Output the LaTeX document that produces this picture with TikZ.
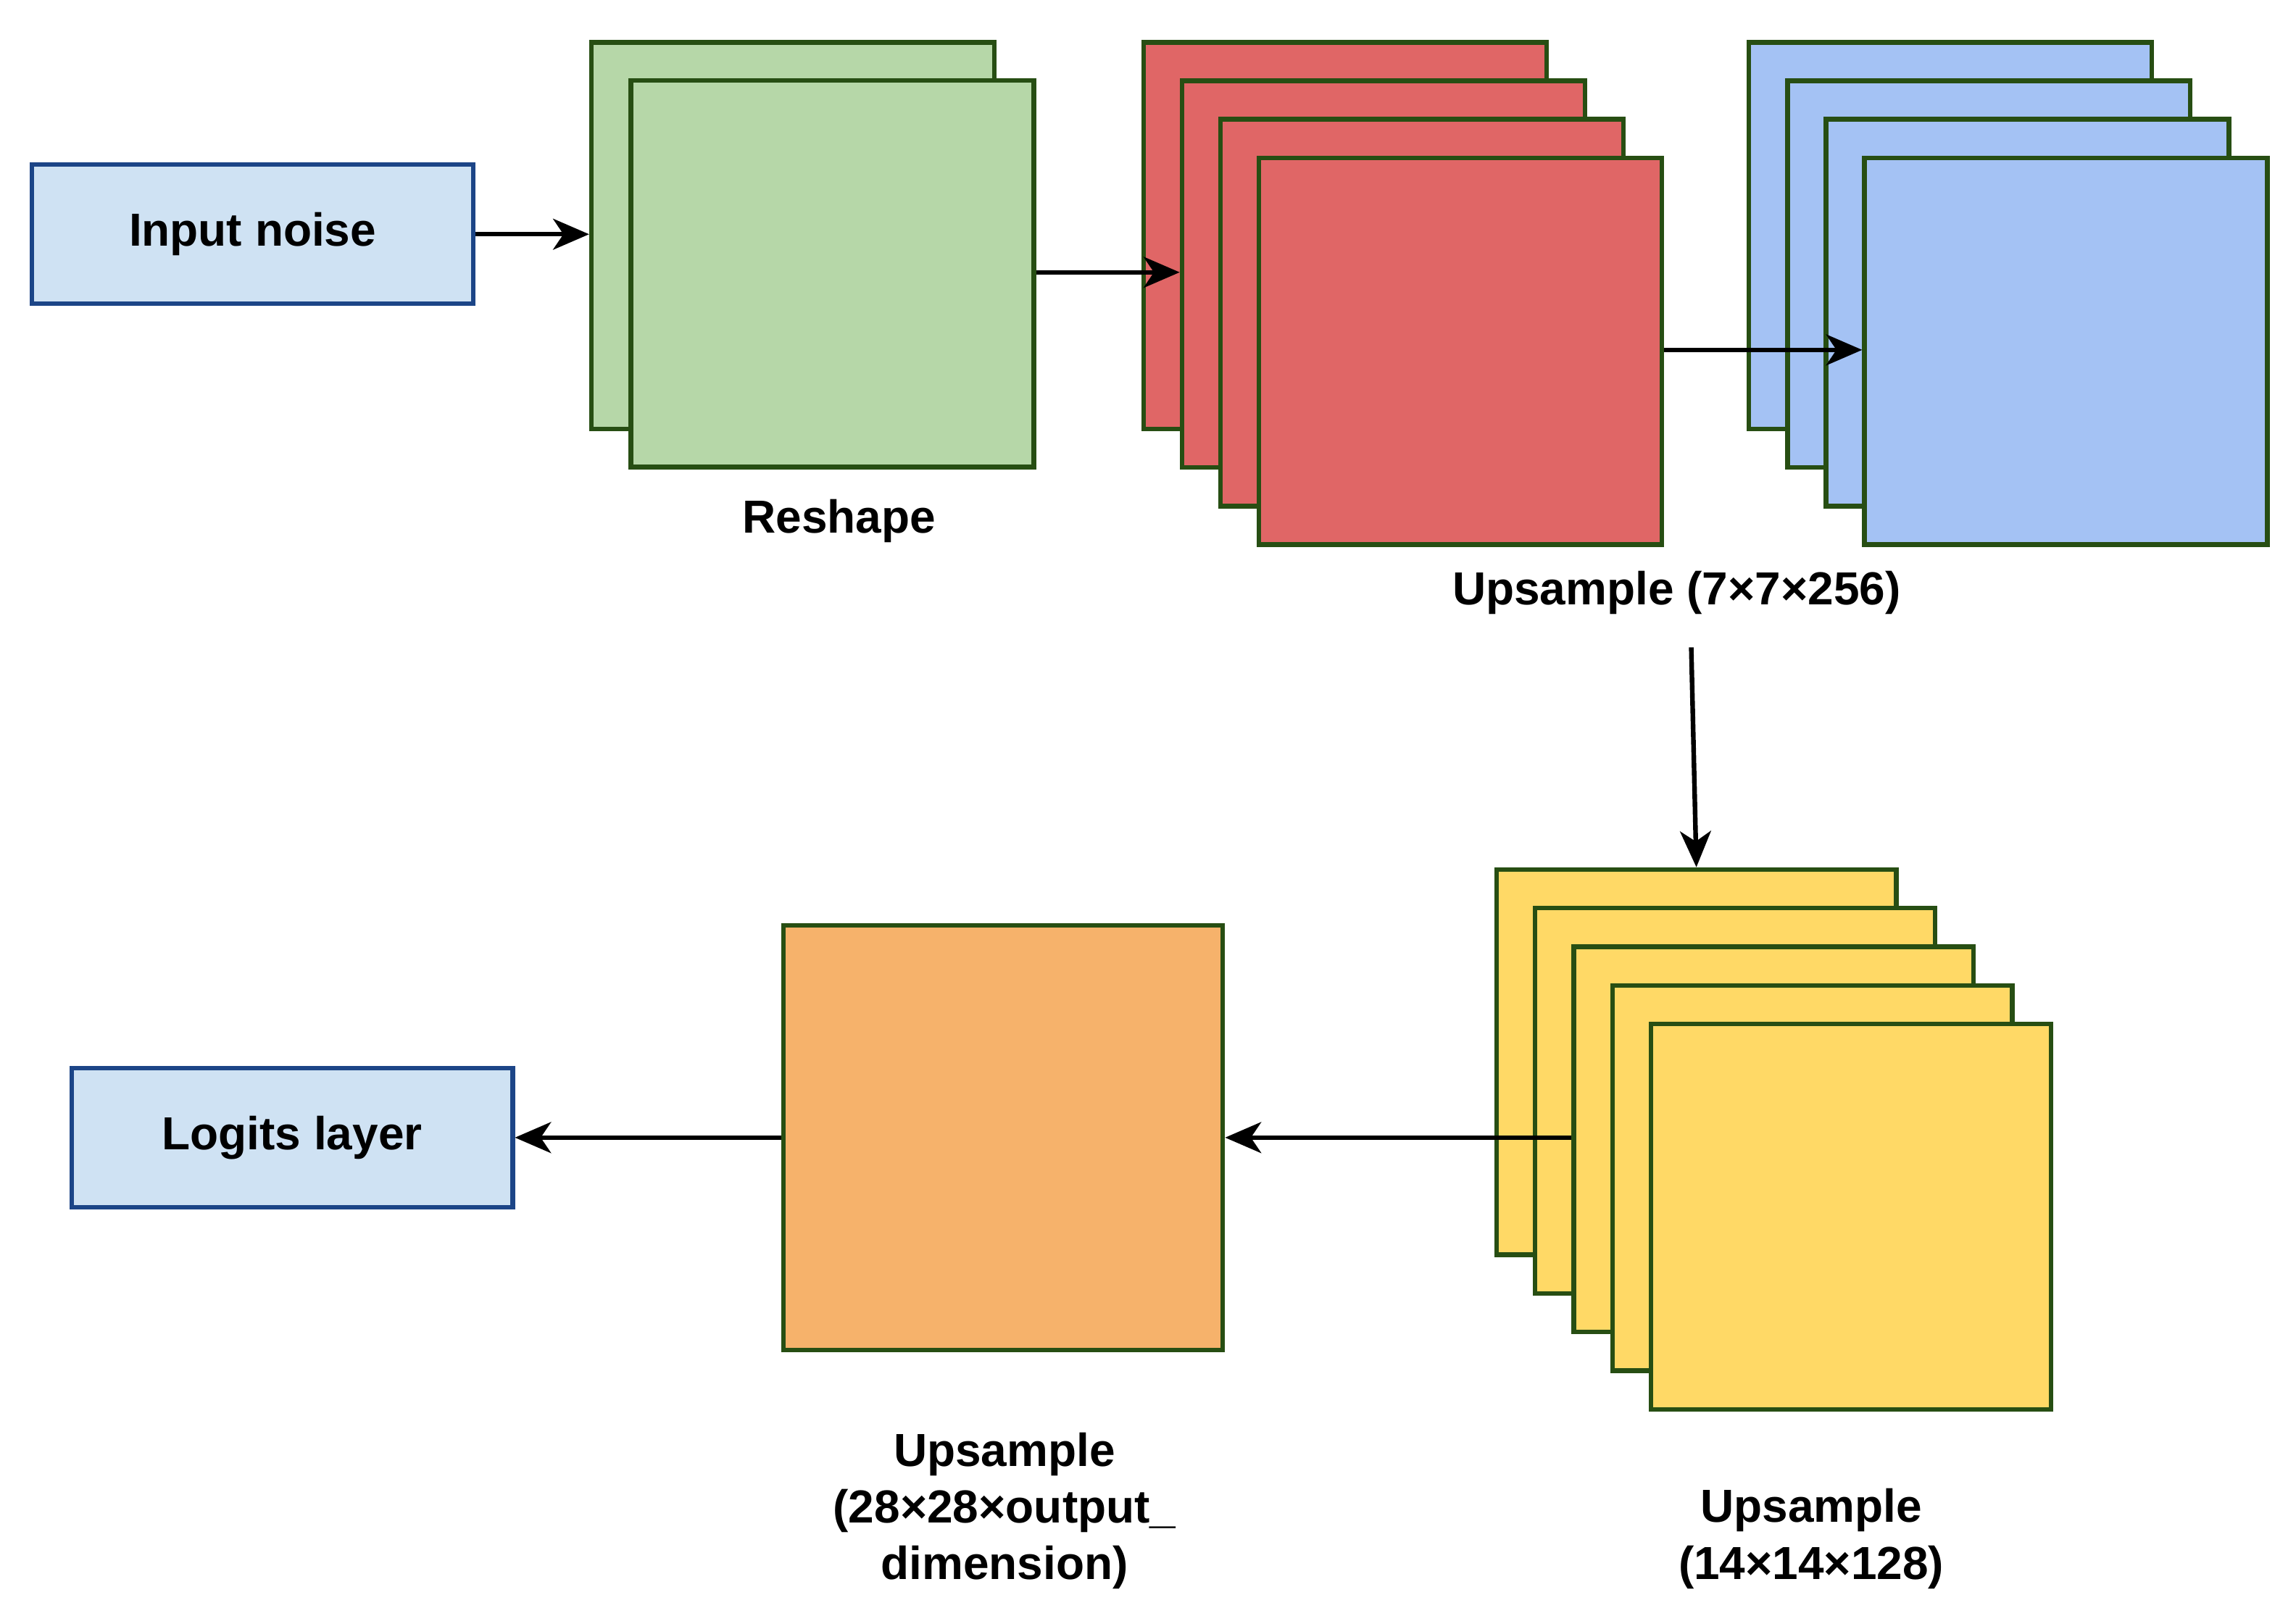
\documentclass[tikz,border=0pt]{standalone}
\usepackage{fontspec}
\setmainfont{Liberation Sans}
\usetikzlibrary{arrows.meta}
\definecolor{bfill}{HTML}{CFE2F3}\definecolor{bdraw}{HTML}{1C4587}
\definecolor{gdraw}{HTML}{274E13}
\definecolor{green1}{HTML}{B6D7A8}\definecolor{red1}{HTML}{E06666}
\definecolor{blue1}{HTML}{A4C2F4}\definecolor{yel1}{HTML}{FFD966}
\definecolor{ora1}{HTML}{F6B26B}
\begin{document}
\begin{tikzpicture}[x=0.01cm,y=-0.01cm,
  box/.style={draw=bdraw,fill=bfill,line width=0.9pt,minimum width=3.01cm,minimum height=0.95cm,font=\bfseries\fontsize{9}{11}\selectfont},
  fm/.style={draw=gdraw,line width=0.9pt,minimum width=2.75cm,minimum height=2.64cm,inner sep=0},
  lab/.style={font=\bfseries\fontsize{9}{11}\selectfont,align=center},
  arr/.style={-{Stealth[length=7pt,width=6pt,inset=2pt]},line width=0.9pt}]
\useasboundingbox (0,0) rectangle (1568,1098);
\node[box] (in) at (172.5,160) {Input noise};
\node[box] (lg) at (199.5,777) {Logits layer};
% green
\node[fm,fill=green1] (g1) at (541.5,161) {};
\node[fm,fill=green1] (g2) at (568.5,187) {};
% red
\foreach \i in {0,...,3}{\node[fm,fill=red1] (r\i) at ({918.5+26.3*\i},{161+26.3*\i}) {};}
% blue
\foreach \i in {0,...,3}{\node[fm,fill=blue1] (b\i) at ({1332+26.3*\i},{161+26.3*\i}) {};}
% yellow
\foreach \i in {0,...,4}{\node[fm,fill=yel1,minimum width=2.73cm,minimum height=2.63cm] (y\i) at ({1158.5+26.4*\i},{725.5+26.4*\i}) {};}
\node[fm,fill=ora1,minimum width=3.0cm,minimum height=2.9cm] (o) at (685,777) {};
\node[lab] (l1) at (573,356) {Reshape};
\node[lab] (l2) at (1145,405) {Upsample (7×7×256)};
\node[lab] (l3) at (686,1032) {Upsample\\(28×28×output\_\\dimension)};
\node[lab] (l4) at (1237,1051) {Upsample\\(14×14×128)};
\draw[arr] (in.east) -- (in.east -| g1.west);
\draw[arr] (g2.east |- 0,186) -- (r1.west |- 0,186);
\draw[arr] (r3.east |- 0,239) -- (b3.west |- 0,239);
\draw[arr] (l2.south) ++(10,10) -- (y0.north);
\draw[arr] (y2.west |- o.east) -- (o.east);
\draw[arr] (o.west) -- (lg.east);
\end{tikzpicture}
\end{document}
